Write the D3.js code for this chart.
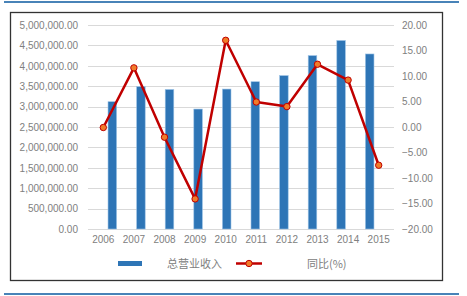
<!DOCTYPE html>
<html>
<head>
<meta charset="utf-8">
<script src="https://cdn.jsdelivr.net/npm/d3@7"></script>
<style>
  body { margin: 0; background: #fff; }
  svg { display: block; font-family: "Liberation Sans", Arial, sans-serif; }
  .tick text { fill: #808080; font-size: 10px; }
</style>
</head>
<body>
<div id="chart"></div>
<script>
var years = ['2006', '2007', '2008', '2009', '2010', '2011', '2012', '2013', '2014', '2015'];
var revenue = [3120000, 3490000, 3420000, 2940000, 3430000, 3610000, 3760000, 4250000, 4620000, 4290000];
var growth = [-0.1, 11.6, -2.0, -14.1, 17.0, 4.9, 4.0, 12.3, 9.2, -7.5];
var leftTicks = [0, 500000, 1000000, 1500000, 2000000, 2500000, 3000000, 3500000, 4000000, 4500000, 5000000];
var rightTicks = [-20, -15, -10, -5, 0, 5, 10, 15, 20];
var seriesNames = ['总营业收入', '同比(%)'];

var svgWidth = 467, svgHeight = 296;
var margin = {top: 25, right: 73, bottom: 67, left: 88};
var width = svgWidth - margin.left - margin.right;
var height = svgHeight - margin.top - margin.bottom;

var svg = d3.select('#chart').append('svg')
  .attr('width', svgWidth)
  .attr('height', svgHeight);

// page decorations
svg.append('line').attr('x1', 4).attr('x2', 459).attr('y1', 2).attr('y2', 2)
  .attr('stroke', '#0b5aa0').attr('stroke-width', 1.5);
svg.append('line').attr('x1', 4).attr('x2', 459).attr('y1', 294).attr('y2', 294)
  .attr('stroke', '#0b5aa0').attr('stroke-width', 1.5);
svg.append('rect').attr('x', 10.5).attr('y', 12.5).attr('width', 432).attr('height', 268)
  .attr('fill', 'none').attr('stroke', '#333').attr('stroke-width', 1.3);

var x = d3.scaleBand().domain(years).range([0, width]).padding(0.7);
var xPoint = d3.scaleBand().domain(years).range([0, width]);
var yLeft = d3.scaleLinear().domain([0, 5000000]).range([height, 0]);
var yRight = d3.scaleLinear().domain([-20, 20]).range([height, 0]);

var main = svg.append('g')
  .attr('transform', 'translate(' + margin.left + ',' + margin.top + ')');

// gridlines
main.append('g').selectAll('line')
  .data(leftTicks)
  .enter().append('line')
  .attr('x1', 0).attr('x2', width)
  .attr('y1', function(d) { return Math.round(yLeft(d)) + 0.5; })
  .attr('y2', function(d) { return Math.round(yLeft(d)) + 0.5; })
  .attr('stroke', '#d9d9d9');

// left axis
var leftAxis = main.append('g')
  .call(d3.axisLeft(yLeft).tickValues(leftTicks).tickSize(0).tickPadding(10)
    .tickFormat(d3.format(',.2f')));
leftAxis.select('.domain').remove();

// right axis
var rightAxis = main.append('g')
  .attr('transform', 'translate(' + width + ',0)')
  .call(d3.axisRight(yRight).tickValues(rightTicks).tickSize(0).tickPadding(8)
    .tickFormat(d3.format('.2f')));
rightAxis.select('.domain').remove();

// x axis
var xAxis = main.append('g')
  .attr('transform', 'translate(0,' + height + ')')
  .call(d3.axisBottom(xPoint).tickSize(0).tickPadding(7));
xAxis.select('.domain').remove();

// bars
main.append('g').selectAll('rect')
  .data(revenue)
  .enter().append('rect')
  .attr('x', function(d, i) { return x(years[i]); })
  .attr('y', function(d) { return yLeft(d); })
  .attr('width', x.bandwidth())
  .attr('height', function(d) { return height - yLeft(d); })
  .attr('fill', '#2e75b6')
  .attr('stroke', '#9dc3e6')
  .attr('stroke-width', 0.6);

// line
var line = d3.line()
  .x(function(d, i) { return xPoint(years[i]) + xPoint.bandwidth() / 2; })
  .y(function(d) { return yRight(d); });

main.append('path')
  .datum(growth)
  .attr('d', line)
  .attr('fill', 'none')
  .attr('stroke', '#c00000')
  .attr('stroke-width', 2.5)
  .attr('stroke-linejoin', 'round');

main.append('g').selectAll('circle')
  .data(growth)
  .enter().append('circle')
  .attr('cx', function(d, i) { return xPoint(years[i]) + xPoint.bandwidth() / 2; })
  .attr('cy', function(d) { return yRight(d); })
  .attr('r', 3.2)
  .attr('fill', '#f07c2a')
  .attr('stroke', '#c00000')
  .attr('stroke-width', 1);

// legend
var legend = svg.append('g');
legend.append('rect')
  .attr('x', 118).attr('y', 261).attr('width', 24).attr('height', 5)
  .attr('fill', '#2e75b6');
legend.append('text')
  .attr('x', 167).attr('y', 268)
  .attr('fill', '#808080').attr('font-size', 11)
  .attr('font-family', '"Noto Sans CJK SC", sans-serif')
  .text(seriesNames[0]);
legend.append('line')
  .attr('x1', 236).attr('x2', 262).attr('y1', 263.5).attr('y2', 263.5)
  .attr('stroke', '#c00000').attr('stroke-width', 2.5);
legend.append('circle')
  .attr('cx', 249).attr('cy', 263.5).attr('r', 3.2)
  .attr('fill', '#f07c2a').attr('stroke', '#c00000').attr('stroke-width', 1);
legend.append('text')
  .attr('x', 307).attr('y', 268)
  .attr('fill', '#808080').attr('font-size', 11)
  .attr('font-family', '"Noto Sans CJK SC", sans-serif')
  .text(seriesNames[1]);
</script>
</body>
</html>
